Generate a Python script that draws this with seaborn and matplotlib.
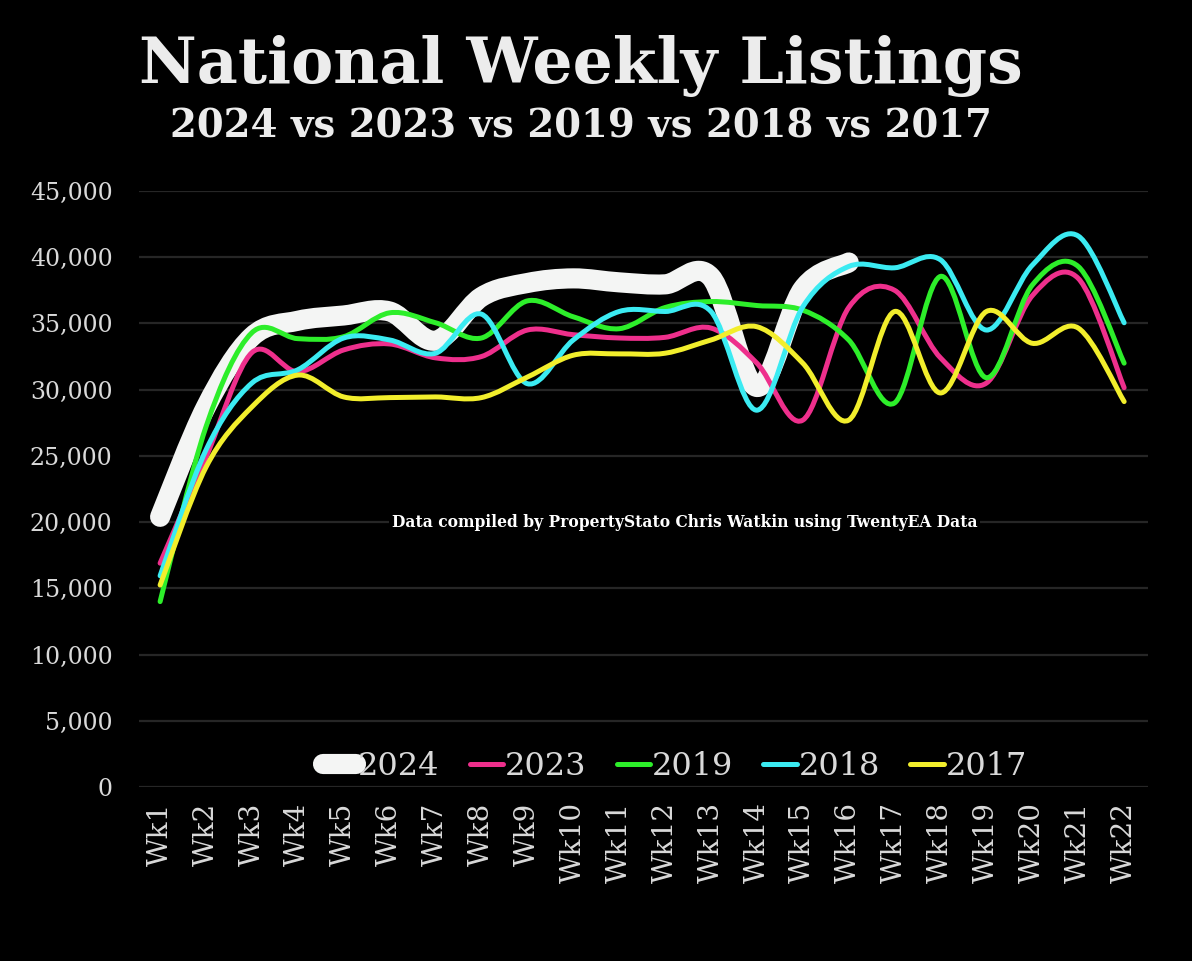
import numpy as np
import matplotlib
matplotlib.use('Agg')
import matplotlib.pyplot as plt
from matplotlib.path import Path
from matplotlib.patches import PathPatch
from matplotlib.lines import Line2D
from matplotlib.ticker import FuncFormatter
import seaborn as sns

# weekly listing counts
weeks = ['Wk' + str(i) for i in range(1, 23)]
y2024 = [20400, 28700, 34000, 35200, 35600, 35900, 33700, 37000, 38050, 38400, 38100,
         37950, 38500, 30200, 37600, 39600]
y2023 = [16900, 24900, 32800, 31350, 33000, 33450, 32400, 32500, 34500, 34150, 33900,
         33950, 34650, 32000, 27700, 36200, 37500, 32400, 30500, 37100, 38400, 30150]
y2019 = [14000, 27200, 34300, 33850, 34000, 35800, 35050, 33900, 36700, 35500, 34600,
         36200, 36650, 36350, 36000, 33750, 29000, 38550, 30900, 37900, 39300, 32000]
y2018 = [15950, 25450, 30500, 31500, 33900, 33750, 32750, 35700, 30450, 33750, 35900,
         35900, 35900, 28450, 36250, 39300, 39200, 39800, 34500, 39400, 41600, 35050]
y2017 = [15250, 24150, 28700, 31100, 29450, 29400, 29450, 29400, 30950, 32600, 32700,
         32750, 33750, 34750, 32000, 27700, 35900, 29750, 35900, 33500, 34650, 29100]

series = [('2024', y2024, '#F4F5F4', 14.5),
          ('2023', y2023, '#EE2F8C', 3.6),
          ('2019', y2019, '#2DEE2A', 3.6),
          ('2018', y2018, '#3BEBF2', 3.6),
          ('2017', y2017, '#F2EE2C', 3.6)]


def smooth_path(vals):
    # Excel style smoothed line: bezier segments through every point
    pts = np.column_stack([np.arange(len(vals)), np.asarray(vals, float)])
    verts = [tuple(pts[0])]
    codes = [Path.MOVETO]
    n = len(pts)
    for i in range(n - 1):
        p0 = pts[i - 1] if i > 0 else pts[i]
        p3 = pts[i + 2] if i + 2 < n else pts[i + 1]
        c1 = pts[i] + (pts[i + 1] - p0) / 6
        c2 = pts[i + 1] - (p3 - pts[i]) / 6
        verts += [tuple(c1), tuple(c2), tuple(pts[i + 1])]
        codes += [Path.CURVE4] * 3
    return Path(verts, codes)


sns.set_theme(style='dark', rc={'figure.facecolor': 'black', 'axes.facecolor': 'black',
                                'savefig.facecolor': 'black'})
plt.rcParams['font.family'] = ['DejaVu Serif']

fig = plt.figure(figsize=(11.92, 9.61), dpi=100)
ax = fig.add_axes([0.1166, 0.181, 0.8465, 0.6203])

for name, vals, color, lw in series:
    ax.add_patch(PathPatch(smooth_path(vals), facecolor='none', edgecolor=color, lw=lw,
                           capstyle='round', joinstyle='round', zorder=3))

ax.set_xlim(-0.46, 21.52)
ax.set_ylim(0, 45000)
ax.set_yticks(range(0, 45001, 5000))
ax.yaxis.set_major_formatter(FuncFormatter(lambda v, p: f'{v:,.0f}'))
ax.set_xticks(range(len(weeks)))
ax.set_xticklabels(weeks, rotation=90)
ax.tick_params(axis='y', length=0, pad=19, labelsize=17, labelcolor='#d9d9d9')
ax.tick_params(axis='x', length=0, pad=11, labelsize=20, labelcolor='#d9d9d9')
ax.grid(False)
ax.yaxis.grid(True, color='#262626', lw=1.6, zorder=0)
sns.despine(ax=ax, left=True, bottom=True)

handles = [Line2D([], [], color=c, lw=lw, solid_capstyle='round') for _, _, c, lw in series]
leg = ax.legend(handles, [s[0] for s in series], loc='center', bbox_to_anchor=(0.531, 0.035),
                ncol=5, frameon=False, fontsize=23, handlelength=1.05, handletextpad=0.05,
                columnspacing=0.95, labelcolor='#d9d9d9')

ax.text(0.541, 20000, 'Data compiled by PropertyStato Chris Watkin using TwentyEA Data',
        transform=ax.get_yaxis_transform(), ha='center', va='center', fontsize=11.2,
        fontweight='bold', color='white', zorder=4,
        bbox=dict(facecolor='black', edgecolor='none', pad=2))

fig.text(0.4874, 0.9136, 'National Weekly Listings', ha='center', va='baseline',
         fontsize=45.5, fontweight='bold', color='#ececec')
fig.text(0.4874, 0.8564, '2024 vs 2023 vs 2019 vs 2018 vs 2017', ha='center', va='baseline',
         fontsize=27.8, fontweight='bold', color='#ececec')

fig.savefig('out.png', dpi=100, facecolor='black')
